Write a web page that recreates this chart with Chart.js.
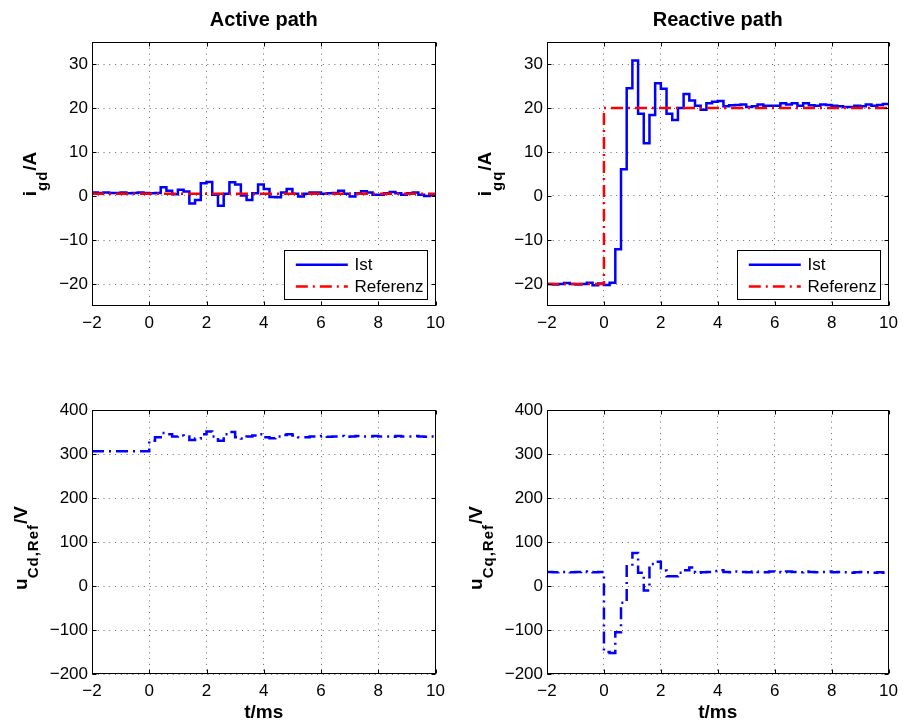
<!DOCTYPE html>
<html>
<head>
<meta charset="utf-8">
<script src="https://cdn.jsdelivr.net/npm/chart.js@4.4.1/dist/chart.umd.min.js"></script>
<style>
  html, body { margin: 0; padding: 0; background: #fff; }
  #page { position: relative; width: 905px; height: 722px; background: #fff; overflow: hidden; }
  #page canvas { position: absolute; }
</style>
</head>
<body>
<div id="page">
  <canvas id="c-id" width="452" height="345" style="left:0;top:0"></canvas>
  <canvas id="c-iq" width="453" height="345" style="left:452px;top:0"></canvas>
  <canvas id="c-ud" width="452" height="377" style="left:0;top:345px"></canvas>
  <canvas id="c-uq" width="453" height="377" style="left:452px;top:345px"></canvas>
</div>
<script>
// sample times (ms), one value per controller step
var timeMs = [-2.0, -1.8, -1.6, -1.4, -1.2, -1.0, -0.8, -0.6, -0.4, -0.2,
              0.0, 0.2, 0.4, 0.6, 0.8, 1.0, 1.2, 1.4, 1.6, 1.8,
              2.0, 2.2, 2.4, 2.6, 2.8, 3.0, 3.2, 3.4, 3.6, 3.8,
              4.0, 4.2, 4.4, 4.6, 4.8, 5.0, 5.2, 5.4, 5.6, 5.8,
              6.0, 6.2, 6.4, 6.6, 6.8, 7.0, 7.2, 7.4, 7.6, 7.8,
              8.0, 8.2, 8.4, 8.6, 8.8, 9.0, 9.2, 9.4, 9.6, 9.8, 10.0];

// active path current (A)
var igdIst = [0.8, 0.7, 0.8, 0.7, 0.7, 0.8, 0.6, 0.7, 0.8, 0.7,
              0.6, 0.7, 2.0, 1.2, 0.4, 1.4, 1.0, -1.7, -0.9, 2.9,
              3.2, 0.3, -2.2, 0.5, 3.1, 2.6, 0.1, -0.9, 0.6, 2.6,
              1.6, -0.2, -0.3, 0.8, 1.6, 0.5, -0.1, 0.5, 0.8, 0.8,
              0.5, 0.6, 0.7, 1.2, 0.5, -0.1, 0.6, 1.1, 0.8, 0.3,
              0.3, 0.6, 0.9, 0.6, 0.3, 0.6, 0.8, 0.3, 0.0, 0.3, 0.3];
var refTimeD = [-2, 10];
var igdRef = [0.5, 0.5];

// reactive path current (A)
var igqIst = [-20.0, -20.1, -20.0, -19.8, -20.0, -20.1, -20.0, -19.7, -20.3, -19.9,
              -20.2, -19.7, -12.1, 6.1, 24.5, 30.8, 18.7, 12.0, 18.4, 25.6,
              24.4, 18.7, 17.3, 20.0, 23.2, 21.7, 20.5, 19.6, 21.1, 21.4,
              21.6, 20.4, 20.6, 20.7, 20.8, 20.2, 20.4, 20.8, 20.5, 20.5,
              20.5, 21.1, 20.8, 21.1, 20.5, 21.1, 20.6, 20.5, 20.8, 20.7,
              20.5, 20.4, 20.2, 20.2, 20.5, 20.4, 20.8, 20.5, 20.7, 20.9, 20.9];
var refTimeQ = [-2, 0, 10];
var igqRef = [-20, 20, 20];

// voltage references (V)
var ucdRef = [306, 306, 306, 306, 306, 306, 306, 306, 306, 306,
              330, 338, 348, 345, 340, 342, 340, 332, 335, 345,
              351, 340, 330, 345, 350, 338, 335, 340, 342, 345,
              338, 336, 340, 343, 345, 342, 338, 338, 340, 340,
              341, 339, 340, 341, 339, 340, 341, 340, 340, 341,
              340, 340, 339, 341, 340, 340, 341, 340, 339, 340, 340];
var ucqRef = [32, 31, 32, 32, 31, 32, 33, 32, 31, 32,
              -150, -152, -105, -38, 45, 75, 30, -10, 50, 55,
              35, 22, 22, 30, 36, 42, 30, 31, 32, 34,
              36, 32, 31, 33, 32, 31, 33, 32, 31, 33,
              32, 31, 33, 32, 31, 33, 32, 31, 32, 33,
              31, 32, 31, 30, 31, 32, 31, 30, 31, 30, 30];

var xTicks = [-2, 0, 2, 4, 6, 8, 10];
var iTicks = [-20, -10, 0, 10, 20, 30];
var uTicks = [-200, -100, 0, 100, 200, 300, 400];
var legendLabels = ['Ist', 'Referenz'];

var FONT = "'Liberation Sans', Arial, Helvetica, sans-serif";
var BLUE = '#0000ff';
var RED = '#ff0000';
var DASHDOT = [12, 5, 2, 5];

function points(xs, ys) {
    return xs.map(function(x, i) { return { x: x, y: ys[i] }; });
}

function minusSign(v) {
    return String(v).replace('-', '\u2212');
}

// box, inward ticks, rotated y label with subscript, legend
var framePlugin = {
    id: 'frame',
    afterDraw: function(chart) {
        var o = chart.options.plugins.frame;
        var a = chart.chartArea;
        var ctx = chart.ctx;
        var L = Math.round(a.left) + 0.5, R = Math.round(a.right) - 0.5;
        var T = Math.round(a.top) + 0.5, B = Math.round(a.bottom) - 0.5;
        ctx.save();
        ctx.strokeStyle = '#000';
        ctx.lineWidth = 1;
        ctx.setLineDash([]);
        ctx.beginPath();
        chart.scales.x.ticks.forEach(function(t) {
            var px = Math.round(chart.scales.x.getPixelForValue(t.value)) + 0.5;
            ctx.moveTo(px, B); ctx.lineTo(px, B - 4);
            ctx.moveTo(px, T); ctx.lineTo(px, T + 4);
        });
        chart.scales.y.ticks.forEach(function(t) {
            var py = Math.round(chart.scales.y.getPixelForValue(t.value)) + 0.5;
            ctx.moveTo(L, py); ctx.lineTo(L + 4, py);
            ctx.moveTo(R, py); ctx.lineTo(R - 4, py);
        });
        ctx.stroke();
        ctx.strokeRect(L, T, R - L, B - T);

        // y label: main text and lowered subscript, rotated
        var parts = o.ylabel;
        var mainFont = 'bold 19px ' + FONT, subFont = 'bold 15px ' + FONT;
        function setFont(sub) {
            ctx.font = sub ? subFont : mainFont;
            ctx.letterSpacing = sub ? '1px' : '0px';
        }
        var total = 0;
        parts.forEach(function(p) {
            setFont(p[1]);
            total += ctx.measureText(p[0]).width;
        });
        ctx.translate(a.left - o.labelGap, (a.top + a.bottom) / 2 + o.labelShift);
        ctx.rotate(-Math.PI / 2);
        ctx.fillStyle = '#000';
        ctx.textBaseline = 'alphabetic';
        ctx.textAlign = 'left';
        var cx = -total / 2;
        parts.forEach(function(p) {
            setFont(p[1]);
            ctx.fillText(p[0], cx, p[1] ? 11 : 0);
            cx += ctx.measureText(p[0]).width;
        });
        ctx.restore();

        if (!o.legend) return;
        var w = 142.6, h = 48.7;
        var bx = Math.round(a.right - 8.7 - w) + 0.5, by = Math.round(a.bottom - 7.3 - h) + 0.5;
        ctx.save();
        ctx.fillStyle = '#fff';
        ctx.fillRect(bx, by, w, h);
        ctx.strokeStyle = '#000';
        ctx.lineWidth = 1;
        ctx.strokeRect(bx, by, Math.round(w), Math.round(h));
        var rows = [by + 14.3, by + 36];
        var styles = [[BLUE, []], [RED, DASHDOT]];
        ctx.font = '17px ' + FONT;
        ctx.textBaseline = 'middle';
        ctx.textAlign = 'left';
        legendLabels.forEach(function(lbl, i) {
            ctx.strokeStyle = styles[i][0];
            ctx.lineWidth = 2.5;
            ctx.setLineDash(styles[i][1]);
            ctx.beginPath();
            ctx.moveTo(bx + 11.3, rows[i]);
            ctx.lineTo(bx + 63.3, rows[i]);
            ctx.stroke();
            ctx.fillStyle = '#000';
            ctx.fillText(lbl, bx + 70, rows[i] + 1);
        });
        ctx.restore();
    }
};

function makeChart(id, p) {
    var ctx = document.getElementById(id).getContext('2d');
    var gridStyle = { color: 'rgba(0,0,0,0.6)', lineWidth: 1, drawTicks: false };
    var tickFont = { family: FONT, size: 17 };
    return new Chart(ctx, {
        type: 'line',
        data: { datasets: p.datasets },
        plugins: [framePlugin],
        options: {
            responsive: false,
            animation: false,
            events: [],
            layout: { padding: { top: p.padTop, right: p.padRight, left: 0, bottom: 0 } },
            elements: { point: { radius: 0 }, line: { tension: 0 } },
            plugins: {
                legend: { display: false },
                tooltip: { enabled: false },
                title: {
                    display: !!p.title,
                    text: p.title,
                    fullSize: false,
                    color: '#000',
                    font: { family: FONT, size: 20, weight: 'bold', lineHeight: 1.2 },
                    padding: { top: 8, bottom: 10 }
                },
                frame: { ylabel: p.ylabel, legend: p.legend, labelGap: p.labelGap, labelShift: p.labelShift }
            },
            scales: {
                x: {
                    type: 'linear', min: -2, max: 10,
                    afterBuildTicks: function(s) { s.ticks = xTicks.map(function(v) { return { value: v }; }); },
                    afterFit: function(s) { s.height = p.xHeight; },
                    grid: gridStyle,
                    border: { display: false, dash: [1, 4.77] },
                    ticks: { color: '#000', font: tickFont, padding: 7, maxRotation: 0, autoSkip: false, callback: minusSign },
                    title: {
                        display: !!p.xTitle, text: p.xTitle, color: '#000',
                        font: { family: FONT, size: 19, weight: 'bold', lineHeight: 1 }, padding: { top: 0, bottom: 0 }
                    }
                },
                y: {
                    type: 'linear', min: p.yMin, max: p.yMax,
                    afterBuildTicks: function(s) { s.ticks = p.yTicks.map(function(v) { return { value: v }; }); },
                    afterFit: function(s) { s.width = p.yWidth; },
                    grid: gridStyle,
                    border: { display: false, dash: [1, 4.77] },
                    ticks: { color: '#000', font: tickFont, padding: 4, autoSkip: false, callback: minusSign }
                }
            }
        }
    });
}

// stairs: each value held until the next sample
function istSet(ys) {
    return { data: points(timeMs, ys), borderColor: BLUE, borderWidth: 2.5, stepped: 'before', order: 1, clip: 0 };
}
function refSet(xs, ys) {
    return { data: points(xs, ys), borderColor: RED, borderWidth: 2.5, borderDash: DASHDOT, stepped: 'before', order: 0, clip: 0 };
}
function voltSet(ys) {
    return { data: points(timeMs, ys), borderColor: BLUE, borderWidth: 2.5, borderDash: DASHDOT, stepped: 'before', clip: 0 };
}

makeChart('c-id', {
    title: 'Active path', padTop: 0, padRight: 14, yWidth: 92, xHeight: 39,
    yMin: -25, yMax: 35, yTicks: iTicks, legend: true,
    ylabel: [['i', false], ['gd', true], ['/A', false]], labelGap: 56, labelShift: 0,
    datasets: [istSet(igdIst), refSet(refTimeD, igdRef)]
});
makeChart('c-iq', {
    title: 'Reactive path', padTop: 0, padRight: 12, yWidth: 95, xHeight: 39,
    yMin: -25, yMax: 35, yTicks: iTicks, legend: true,
    ylabel: [['i', false], ['gq', true], ['/A', false]], labelGap: 56, labelShift: 0,
    datasets: [istSet(igqIst), refSet(refTimeQ, igqRef)]
});
makeChart('c-ud', {
    title: '', xTitle: 't/ms', padTop: 65, padRight: 14, yWidth: 92, xHeight: 48,
    yMin: -200, yMax: 400, yTicks: uTicks, legend: false,
    ylabel: [['u', false], ['Cd,Ref', true], ['/V', false]], labelGap: 65, labelShift: 6,
    datasets: [voltSet(ucdRef)]
});
makeChart('c-uq', {
    title: '', xTitle: 't/ms', padTop: 65, padRight: 12, yWidth: 95, xHeight: 48,
    yMin: -200, yMax: 400, yTicks: uTicks, legend: false,
    ylabel: [['u', false], ['Cq,Ref', true], ['/V', false]], labelGap: 65, labelShift: 6,
    datasets: [voltSet(ucqRef)]
});
</script>
</body>
</html>
